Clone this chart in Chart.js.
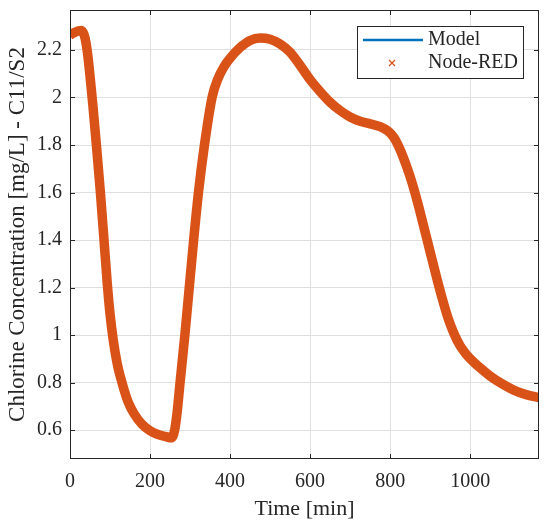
<!DOCTYPE html>
<html>
<head>
<meta charset="utf-8">
<script src="https://cdn.jsdelivr.net/npm/chart.js@4.4.1/dist/chart.umd.min.js"></script>
<style>
  body { margin: 0; background: #fff; }
  #wrap { width: 550px; height: 529px; }
</style>
</head>
<body>
<div id="wrap"><canvas id="chlorineChart" width="550" height="529"></canvas></div>
<script>
// time [min] and chlorine concentration [mg/L]
const timeMin = [0, 10, 20, 28, 35, 40, 45, 50, 57, 67, 76, 85, 93, 100, 108, 118, 130, 145, 160, 180,
  200, 220, 240, 252, 257, 262, 268, 275, 287, 298, 309, 321, 336, 355, 370, 385, 400, 425, 450, 475,
  500, 525, 550, 575, 600, 625, 650, 675, 700, 725, 750, 775, 795, 810, 825, 840, 855, 870, 885, 900,
  915, 930, 945, 960, 975, 990, 1005, 1025, 1050, 1080, 1110, 1140, 1172];
const chlorine = [2.263, 2.272, 2.28, 2.282, 2.265, 2.23, 2.17, 2.09, 1.97, 1.78, 1.6, 1.4, 1.22, 1.09, 0.98, 0.88, 0.8, 0.72, 0.67, 0.625,
  0.598, 0.582, 0.573, 0.568, 0.575, 0.605, 0.68, 0.8, 1.0, 1.2, 1.4, 1.6, 1.8, 2.0, 2.08, 2.13, 2.165, 2.21, 2.24, 2.25,
  2.245, 2.225, 2.19, 2.135, 2.075, 2.025, 1.98, 1.945, 1.918, 1.9, 1.889, 1.877, 1.858, 1.83, 1.78, 1.715, 1.64, 1.55, 1.45, 1.35,
  1.25, 1.155, 1.07, 1.005, 0.955, 0.92, 0.893, 0.862, 0.828, 0.795, 0.768, 0.75, 0.737];
const seriesNames = ['Model', 'Node-RED'];
const xTicks = [0, 200, 400, 600, 800, 1000];
const yTicks = [0.6, 0.8, 1, 1.2, 1.4, 1.6, 1.8, 2, 2.2];

const points = timeMin.map((t, i) => ({ x: t, y: chlorine[i] }));

const blue = '#0072BD';
const orange = '#D95319';
const axisColor = '#262626';
const gridColor = '#dfdfdf';
const serif = "'Liberation Serif', 'Times New Roman', serif";

// MATLAB style box, inward ticks and legend
const matlabBox = {
  id: 'matlabBox',
  afterDraw(chart) {
    const { ctx, chartArea: a, scales } = chart;
    ctx.save();
    ctx.strokeStyle = axisColor;
    ctx.lineWidth = 1;
    ctx.strokeRect(a.left + 0.5, a.top + 0.5, a.right - a.left - 1, a.bottom - a.top - 1);
    ctx.beginPath();
    scales.x.ticks.forEach(t => {
      const px = Math.round(scales.x.getPixelForValue(t.value)) + 0.5;
      ctx.moveTo(px, a.bottom); ctx.lineTo(px, a.bottom - 5);
      ctx.moveTo(px, a.top); ctx.lineTo(px, a.top + 5);
    });
    scales.y.ticks.forEach(t => {
      const py = Math.round(scales.y.getPixelForValue(t.value)) + 0.5;
      ctx.moveTo(a.left, py); ctx.lineTo(a.left + 5, py);
      ctx.moveTo(a.right, py); ctx.lineTo(a.right - 5, py);
    });
    ctx.stroke();

    // legend
    const bx = a.right - 182, by = a.top + 16, bw = 166, bh = 52;
    ctx.fillStyle = '#fff';
    ctx.fillRect(bx, by, bw, bh);
    ctx.strokeStyle = axisColor;
    ctx.strokeRect(bx + 0.5, by + 0.5, bw, bh);
    ctx.strokeStyle = blue;
    ctx.lineWidth = 2.5;
    ctx.beginPath();
    ctx.moveTo(bx + 6, by + 14); ctx.lineTo(bx + 66, by + 14);
    ctx.stroke();
    ctx.strokeStyle = orange;
    ctx.lineWidth = 1.3;
    const mx = bx + 35, my = by + 37, r = 3;
    ctx.beginPath();
    ctx.moveTo(mx - r, my - r); ctx.lineTo(mx + r, my + r);
    ctx.moveTo(mx - r, my + r); ctx.lineTo(mx + r, my - r);
    ctx.stroke();
    ctx.fillStyle = axisColor;
    ctx.font = '20px ' + serif;
    ctx.textBaseline = 'middle';
    ctx.textAlign = 'left';
    ctx.fillText(seriesNames[0], bx + 71, by + 14);
    ctx.fillText(seriesNames[1], bx + 71, by + 37);
    ctx.restore();
  }
};

new Chart(document.getElementById('chlorineChart'), {
  type: 'line',
  data: {
    datasets: [{
      label: seriesNames[0],
      data: points,
      order: 2,
      borderColor: blue,
      borderWidth: 2,
      pointRadius: 0,
      cubicInterpolationMode: 'monotone'
    }, {
      label: seriesNames[1],
      data: points,
      order: 1,
      borderColor: orange,
      backgroundColor: orange,
      borderWidth: 9.5,
      pointStyle: 'crossRot',
      pointRadius: 3.5,
      pointBorderWidth: 1.5,
      cubicInterpolationMode: 'monotone'
    }]
  },
  options: {
    responsive: false,
    animation: false,
    layout: { padding: { top: 10, right: 11, left: 0, bottom: 0 } },
    plugins: {
      legend: { display: false },
      tooltip: { enabled: false }
    },
    scales: {
      x: {
        type: 'linear',
        min: 0,
        max: 1172,
        border: { display: false },
        grid: { color: gridColor, lineWidth: 1, drawTicks: false },
        ticks: {
          padding: 11,
          color: axisColor,
          font: { family: serif, size: 20 },
          maxRotation: 0,
          autoSkip: false,
          callback: v => String(v)
        },
        afterBuildTicks: s => { s.ticks = xTicks.map(v => ({ value: v })); },
        title: {
          display: true,
          text: 'Time [min]',
          color: axisColor,
          font: { family: serif, size: 22 },
          padding: { top: 0, bottom: 7 }
        },
        afterFit: s => { s.height = 70; s.paddingLeft = 0; s.paddingRight = 0; }
      },
      y: {
        min: 0.479,
        max: 2.368,
        border: { display: false },
        grid: { color: gridColor, lineWidth: 1, drawTicks: false },
        ticks: {
          padding: 8,
          color: axisColor,
          autoSkip: false,
          font: { family: serif, size: 20 },
          callback: v => String(v)
        },
        afterBuildTicks: s => { s.ticks = yTicks.map(v => ({ value: v })); },
        title: {
          display: true,
          text: 'Chlorine Concentration [mg/L] - C11/S2',
          color: axisColor,
          font: { family: serif, size: 23 },
          padding: { top: 4, bottom: 0 }
        },
        afterFit: s => { s.width = 70; s.paddingTop = 0; s.paddingBottom = 0; }
      }
    }
  },
  plugins: [matlabBox]
});
</script>
</body>
</html>
